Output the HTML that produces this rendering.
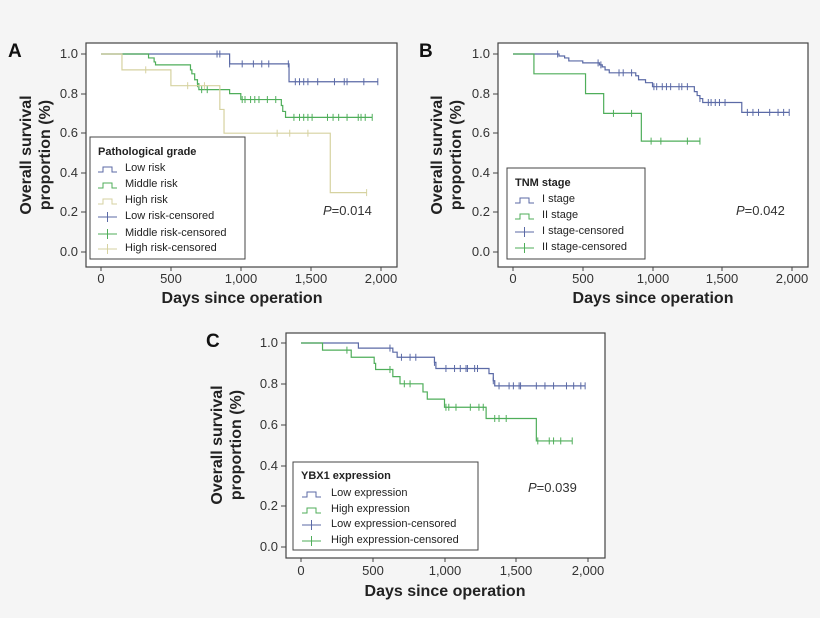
<!DOCTYPE html>
<html><head><meta charset="utf-8"><style>
html,body{margin:0;padding:0;background:#f5f5f5;}
svg{display:block;font-family:"Liberation Sans",sans-serif;}
.t{font-size:13px;fill:#333;}
.lg{font-size:11px;fill:#222;}
.lt{font-size:11px;font-weight:bold;fill:#222;}
.ax{font-size:16px;font-weight:bold;fill:#222;}
.pl{font-size:19px;font-weight:bold;fill:#111;}
</style></head><body>
<svg id="s" width="820" height="618" viewBox="0 0 820 618">
<rect width="820" height="618" fill="#f5f5f5"/>
<!-- Panel A -->
<text class="pl" x="8" y="57">A</text>
<rect x="86" y="43" width="311" height="224" fill="#fff" stroke="#444" stroke-width="1.2"/>
<g class="t" text-anchor="end">
<text x="78" y="58">1.0</text><text x="78" y="98">0.8</text><text x="78" y="137">0.6</text><text x="78" y="177">0.4</text><text x="78" y="216">0.2</text><text x="78" y="256">0.0</text></g>
<g class="t" text-anchor="middle">
<text x="101" y="283">0</text><text x="171" y="283">500</text><text x="241" y="283">1,000</text><text x="311" y="283">1,500</text><text x="381" y="283">2,000</text></g>
<text class="ax" x="242" y="303" text-anchor="middle">Days since operation</text>
<text class="ax" transform="translate(31,155) rotate(-90)" text-anchor="middle">Overall survival</text>
<text class="ax" transform="translate(50,155) rotate(-90)" text-anchor="middle">proportion (%)</text>
<rect x="90" y="137" width="155" height="122" fill="#fff" stroke="#444"/>
<text class="lt" x="98" y="155">Pathological grade</text>
<g class="lg"><text x="125" y="171">Low risk</text><text x="125" y="187">Middle risk</text><text x="125" y="203">High risk</text><text x="125" y="219">Low risk-censored</text><text x="125" y="236">Middle risk-censored</text><text x="125" y="251">High risk-censored</text></g>
<text class="t" x="323" y="215" font-size="13"><tspan font-style="italic">P</tspan>=0.014</text>
<!-- Panel B -->
<text class="pl" x="419" y="57">B</text>
<rect x="498" y="43" width="310" height="224" fill="#fff" stroke="#444" stroke-width="1.2"/>
<g class="t" text-anchor="end">
<text x="490" y="58">1.0</text><text x="490" y="98">0.8</text><text x="490" y="137">0.6</text><text x="490" y="177">0.4</text><text x="490" y="216">0.2</text><text x="490" y="256">0.0</text></g>
<g class="t" text-anchor="middle">
<text x="513" y="283">0</text><text x="583" y="283">500</text><text x="653" y="283">1,000</text><text x="722" y="283">1,500</text><text x="792" y="283">2,000</text></g>
<text class="ax" x="653" y="303" text-anchor="middle">Days since operation</text>
<text class="ax" transform="translate(442,155) rotate(-90)" text-anchor="middle">Overall survival</text>
<text class="ax" transform="translate(461,155) rotate(-90)" text-anchor="middle">proportion (%)</text>
<rect x="507" y="168" width="138" height="91" fill="#fff" stroke="#444"/>
<text class="lt" x="515" y="186">TNM stage</text>
<g class="lg"><text x="542" y="202">I stage</text><text x="542" y="218">II stage</text><text x="542" y="234">I stage-censored</text><text x="542" y="250">II stage-censored</text></g>
<text class="t" x="736" y="215" font-size="13"><tspan font-style="italic">P</tspan>=0.042</text>
<!-- Panel C -->
<text class="pl" x="206" y="347">C</text>
<rect x="286" y="333" width="319" height="225" fill="#fff" stroke="#444" stroke-width="1.2"/>
<g class="t" text-anchor="end">
<text x="278" y="347">1.0</text><text x="278" y="388">0.8</text><text x="278" y="429">0.6</text><text x="278" y="470">0.4</text><text x="278" y="510">0.2</text><text x="278" y="551">0.0</text></g>
<g class="t" text-anchor="middle">
<text x="301" y="575">0</text><text x="373" y="575">500</text><text x="445" y="575">1,000</text><text x="516" y="575">1,500</text><text x="588" y="575">2,000</text></g>
<text class="ax" x="445" y="596" text-anchor="middle">Days since operation</text>
<text class="ax" transform="translate(222,445) rotate(-90)" text-anchor="middle">Overall survival</text>
<text class="ax" transform="translate(241,445) rotate(-90)" text-anchor="middle">proportion (%)</text>
<rect x="293" y="462" width="185" height="88" fill="#fff" stroke="#444"/>
<text class="lt" x="301" y="479">YBX1 expression</text>
<g class="lg"><text x="331" y="496">Low expression</text><text x="331" y="512">High expression</text><text x="331" y="527">Low expression-censored</text><text x="331" y="543">High expression-censored</text></g>
<text class="t" x="528" y="492" font-size="13"><tspan font-style="italic">P</tspan>=0.039</text>
<g id="g"></g>
</svg>
<script>
var B='#5b6aa6',G='#4fae5a',Y='#d6d2a0',out='';
function P(x0,xs,y0,ys){return [function(d){return x0+d*xs},function(s){return y0-s*ys}]}
function curve(m,steps,end,cens,col){
 var X=m[0],Yf=m[1],s=1,d='M'+X(0)+' '+Yf(1);
 steps.forEach(function(p){d+='H'+X(p[0])+'V'+Yf(p[1]);s=p[1];});
 d+='H'+X(end);
 out+='<path d="'+d+'" fill="none" stroke="'+col+'" stroke-width="1.2"/>';
 cens.forEach(function(c){var v=1;steps.forEach(function(p){if(p[0]<=c)v=p[1];});
  out+='<path d="M'+X(c)+' '+(Yf(v)-3.5)+'v7" stroke="'+col+'" stroke-width="1"/>';});
}
function ticks(bx,by,bw,yt,xt){
 yt.forEach(function(y){out+='<path d="M'+(bx-5)+' '+y+'h5" stroke="#444"/>';});
 xt.forEach(function(x){out+='<path d="M'+x+' '+by+'v4" stroke="#444"/>';});
}
function leg(x,y,col,cen){
 if(!cen)out+='<path d="M'+x+' '+(y+1)+'h5v-5h9v5h5" fill="none" stroke="'+col+'"/>';
 else out+='<path d="M'+x+' '+(y-2)+'h19M'+(x+9.5)+' '+(y-7)+'v10" fill="none" stroke="'+col+'"/>';
}
var A=P(101,0.1398,252,198);
ticks(86,267,311,[54,94,133,173,212,252],[101,171,241,311,381]);
curve(A,[[920,0.95],[1345,0.86]],1980,[830,850,920,1010,1090,1150,1200,1340,1390,1420,1450,1480,1550,1670,1740,1760,1880,1980],B);
curve(A,[[340,0.98],[380,0.96],[390,0.945],[640,0.92],[650,0.9],[670,0.87],[690,0.85],[700,0.82],[920,0.8],[1000,0.77],[1290,0.74],[1300,0.71],[1320,0.68]],1940,[690,720,760,1010,1030,1070,1100,1130,1190,1250,1380,1420,1450,1480,1510,1620,1660,1700,1760,1840,1860,1890,1940],G);
curve(A,[[150,0.92],[500,0.84],[850,0.72],[880,0.6],[1640,0.3]],1900,[320,620,740,1260,1350,1480,1900],Y);
leg(98,171,B,0);leg(98,187,G,0);leg(98,203,Y,0);leg(98,219,B,1);leg(98,236,G,1);leg(98,251,Y,1);
var Bm=P(513,0.1395,252,198);
ticks(498,267,310,[54,94,133,173,212,252],[513,583,653,722,792]);
curve(Bm,[[330,0.99],[370,0.98],[400,0.965],[500,0.955],[620,0.945],[640,0.935],[660,0.92],[690,0.905],[880,0.89],[900,0.87],[950,0.855],[1000,0.835],[1300,0.81],[1320,0.79],[1340,0.775],[1360,0.755],[1640,0.705]],1980,[320,610,630,760,790,850,1010,1030,1070,1100,1130,1190,1210,1250,1340,1400,1420,1450,1480,1520,1680,1720,1760,1840,1900,1940,1980],B);
curve(Bm,[[150,0.9],[520,0.8],[650,0.7],[920,0.56]],1340,[720,850,990,1060,1250,1340],G);
leg(515,202,B,0);leg(515,218,G,0);leg(515,234,B,1);leg(515,250,G,1);
var C=P(301,0.1435,547,204);
ticks(286,558,319,[343,384,425,466,506,547],[301,373,445,516,588]);
curve(C,[[400,0.975],[640,0.955],[670,0.93],[930,0.905],[940,0.875],[1310,0.85],[1340,0.815],[1350,0.79]],1980,[620,700,760,800,930,1010,1070,1110,1150,1160,1210,1230,1340,1380,1450,1480,1520,1530,1640,1700,1760,1850,1900,1950,1980],B);
curve(C,[[150,0.965],[350,0.93],[510,0.9],[520,0.87],[640,0.835],[690,0.8],[850,0.76],[880,0.725],[1000,0.685],[1290,0.63],[1640,0.52]],1890,[320,620,720,760,1010,1030,1080,1180,1240,1270,1350,1380,1430,1650,1730,1760,1810,1890],G);
leg(302,496,B,0);leg(302,512,G,0);leg(302,527,B,1);leg(302,543,G,1);
document.getElementById('g').innerHTML=out;
</script>
</body></html>
